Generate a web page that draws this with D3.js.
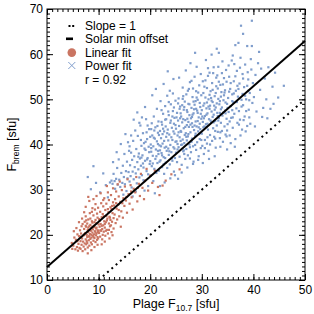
<!DOCTYPE html>
<html>
<head>
<meta charset="utf-8">
<script src="https://cdn.jsdelivr.net/npm/d3@7"></script>
<style>
  body { margin: 0; background: #fff; }
  svg { display: block; font-family: "Liberation Sans", Arial, sans-serif; }
</style>
</head>
<body>
<svg id="chart" width="314" height="314"></svg>
<script>
// power-fit sample (blue), [plage F10.7, Fbrem]
var bluePts = [
[7.9,32.8],[8.5,30.1],[9.5,31.5],[10.3,29.4],[10.9,33.6],[11.4,31.0],[11.8,28.3],[9.0,35.2],
[12.2,31.6],[12.5,32.0],[12.7,31.3],[12.9,33.5],[13.1,31.9],[13.2,30.2],[13.4,32.4],[13.6,34.8],[13.7,31.1],[13.9,36.7],[14.0,32.2],[14.2,30.6],[14.3,40.1],[14.4,33.7],[14.6,31.5],[14.7,35.3],[14.9,32.8],[15.0,37.9],[15.1,31.2],[15.3,34.1],[15.4,29.7],[15.5,36.2],[15.6,32.5],[15.7,40.5],[15.8,33.9],[15.9,38.6],[12.8,36.1],[13.5,38.3],[14.8,28.9],[15.2,42.3],
[16.0,31.8],[16.1,35.4],[16.2,33.0],[16.3,38.2],[16.4,30.5],[16.5,36.6],[16.6,34.0],[16.7,40.8],[16.8,32.3],[16.9,37.4],[17.0,35.0],[17.1,43.1],[17.2,33.6],[17.3,39.0],[17.4,31.4],[17.5,36.1],[17.6,41.9],[17.7,34.5],[17.8,38.0],[17.9,32.7],[18.0,36.9],[18.1,44.2],[18.2,35.3],[18.3,39.7],[18.4,33.2],[18.5,37.6],[18.6,42.5],[18.7,34.9],[18.8,40.3],[18.9,31.9],[19.0,36.4],[19.1,38.8],[19.2,45.6],[19.3,34.1],[19.4,41.2],[19.5,37.0],[19.6,33.4],[19.7,39.5],[19.8,43.4],[19.9,35.7],[16.3,42.0],[16.8,45.5],[17.5,47.1],[18.4,46.0],[19.0,48.3],[17.2,29.6],[18.9,29.8],[19.6,30.8],[16.6,28.5],[17.9,44.8],[18.7,32.1],[19.3,42.7],[16.0,39.6],[17.7,37.3],[18.2,41.0],
[20.0,36.3],[20.1,40.0],[20.1,33.1],[20.2,38.4],[20.3,44.7],[20.3,35.2],[20.4,42.0],[20.5,37.5],[20.6,31.9],[20.6,39.6],[20.7,46.2],[20.8,34.6],[20.9,41.3],[21.0,36.8],[21.0,43.8],[21.1,38.9],[21.2,33.7],[21.3,40.7],[21.3,47.9],[21.4,35.9],[21.5,42.6],[21.6,37.9],[21.6,45.1],[21.7,34.2],[21.8,39.8],[21.9,43.0],[22.0,36.5],[22.0,49.6],[22.1,41.4],[22.2,38.1],[22.3,35.0],[22.3,44.4],[22.4,40.2],[22.5,46.8],[22.6,37.2],[22.7,42.9],[22.7,33.5],[22.8,39.3],[22.9,48.5],[23.0,36.0],[23.0,44.0],[23.1,41.7],[23.2,38.6],[23.3,50.8],[23.3,34.8],[23.4,43.3],[23.5,40.9],[23.6,37.7],[23.6,46.5],[23.7,42.2],[23.8,35.6],[23.9,39.9],[24.0,45.3],[24.0,48.9],[24.1,38.3],[24.2,43.7],[24.3,36.4],[24.3,41.0],[24.4,47.4],[24.5,39.4],[24.6,44.6],[24.6,34.0],[24.7,42.4],[24.8,37.0],[24.9,49.7],[24.9,40.6],[20.4,50.9],[21.1,52.3],[22.6,53.4],[23.8,51.9],[24.5,54.5],[21.9,30.8],[22.8,31.6],[23.9,32.5],[24.8,33.2],[20.9,29.2],[23.4,56.2],[24.2,36.9],[21.5,38.6],[22.4,42.3],[23.1,45.6],[20.7,41.5],[24.7,45.9],[22.2,47.6],[21.8,36.2],[23.5,39.1],[20.2,43.4],[24.4,51.3],[22.9,37.0],[21.4,44.1],
[25.0,38.2],[25.0,43.5],[25.1,40.7],[25.2,47.0],[25.2,36.1],[25.3,42.0],[25.4,45.3],[25.5,39.4],[25.5,50.2],[25.6,44.1],[25.7,37.3],[25.7,41.6],[25.8,48.4],[25.9,43.0],[26.0,39.9],[26.0,46.2],[26.1,35.5],[26.2,44.9],[26.3,41.1],[26.3,52.6],[26.4,38.5],[26.5,47.7],[26.5,43.6],[26.6,40.3],[26.7,49.5],[26.8,45.4],[26.8,36.8],[26.9,42.5],[27.0,51.1],[27.0,39.0],[27.1,44.3],[27.2,47.2],[27.3,41.8],[27.3,37.6],[27.4,49.0],[27.5,43.9],[27.6,46.5],[27.6,40.0],[27.7,53.8],[27.8,42.7],[27.9,38.3],[27.9,45.8],[28.0,48.1],[28.1,41.3],[28.1,44.7],[28.2,50.5],[28.3,39.6],[28.4,46.9],[28.4,36.2],[28.5,43.2],[28.6,55.0],[28.6,48.8],[28.7,41.9],[28.8,45.1],[28.9,38.8],[28.9,51.8],[29.0,44.0],[29.1,47.5],[29.1,40.5],[29.2,49.9],[29.3,42.9],[29.4,37.4],[29.4,46.0],[29.5,53.1],[29.6,44.6],[29.6,41.2],[29.7,48.3],[29.8,39.2],[29.9,45.7],[29.9,50.9],[28.7,60.3],[26.9,56.4],[27.8,58.0],[29.0,57.2],[25.6,54.8],[26.1,33.8],[27.2,34.9],[28.3,35.7],[29.3,36.6],[25.4,32.4],[26.4,50.7],[27.5,52.3],[28.0,54.1],[29.8,55.6],[25.9,46.9],[26.7,42.1],[27.4,45.0],[28.2,43.9],[29.5,42.3],[25.3,40.1],[26.2,48.7],[27.1,40.9],[28.5,47.8],[29.2,45.2],[28.8,49.6],[27.7,39.4],[26.6,37.9],[25.8,45.8],[29.7,43.4],[28.1,46.1],
[30.0,42.4],[30.0,47.6],[30.1,39.7],[30.2,45.0],[30.3,51.4],[30.3,43.8],[30.4,37.9],[30.5,49.1],[30.6,46.3],[30.6,41.0],[30.7,54.2],[30.8,44.5],[30.9,48.0],[31.0,40.2],[31.0,52.5],[31.1,46.9],[31.2,43.3],[31.3,50.0],[31.3,38.6],[31.4,45.6],[31.5,55.9],[31.6,48.6],[31.6,42.1],[31.7,51.8],[31.8,44.9],[31.9,47.3],[32.0,40.8],[32.0,53.6],[32.1,49.4],[32.2,43.6],[32.3,46.6],[32.3,57.1],[32.4,41.7],[32.5,50.7],[32.6,45.2],[32.7,48.2],[32.7,39.3],[32.8,52.9],[32.9,44.2],[33.0,47.0],[33.0,55.3],[33.1,42.8],[33.2,50.1],[33.3,60.3],[33.3,45.9],[33.4,48.9],[33.5,41.4],[33.6,53.2],[33.7,44.8],[33.7,47.8],[33.8,51.6],[33.9,43.0],[34.0,58.4],[34.0,46.4],[34.1,40.6],[34.2,49.8],[34.3,54.7],[34.4,44.0],[34.5,47.5],[34.5,52.0],[34.6,42.2],[34.7,56.5],[34.8,45.7],[34.9,49.0],[34.9,38.9],[30.8,58.7],[31.9,59.9],[32.9,61.2],[30.2,35.9],[31.4,36.8],[32.5,37.4],[33.6,39.5],[34.8,41.8],[31.2,56.9],[33.9,55.8],[30.5,52.8],[31.8,50.3],[32.1,46.1],[33.2,45.3],[34.3,50.9],[30.9,43.9],[32.6,43.0],[33.5,49.6],[34.6,46.9],[31.5,47.9],[30.4,45.8],[32.8,54.8],[34.1,53.3],[33.1,52.4],[31.1,41.6],
[35.0,44.5],[35.1,50.3],[35.2,47.2],[35.3,55.0],[35.4,42.0],[35.5,52.3],[35.6,48.5],[35.7,45.9],[35.8,58.6],[35.9,51.1],[36.0,43.7],[36.1,49.4],[36.2,54.0],[36.3,46.8],[36.5,62.0],[36.5,41.2],[36.6,51.9],[36.7,48.0],[36.8,56.3],[36.9,44.8],[37.0,50.6],[37.1,62.5],[37.2,47.4],[37.3,53.5],[37.4,45.5],[37.5,59.2],[37.6,66.3],[37.7,49.9],[37.8,43.3],[37.9,55.6],[38.0,64.5],[38.0,48.7],[38.2,52.7],[38.3,46.2],[38.4,57.7],[38.6,50.0],[38.8,61.8],[38.8,44.1],[39.0,54.4],[39.1,47.7],[39.3,51.4],[39.5,58.9],[39.7,61.8],[39.7,67.4],[39.8,49.2],[35.6,40.3],[36.4,39.5],[37.5,42.0],[38.5,42.9],[39.4,44.6],[35.2,57.5],[36.0,59.7],[38.9,56.0],[39.9,53.6],[36.9,53.0],[37.9,51.2],[35.9,47.6],[38.1,45.4],[39.2,46.0],[36.3,57.8],
[40.1,50.5],[40.4,55.4],[40.6,47.3],[40.9,58.0],[41.1,60.5],[41.3,52.1],[41.7,46.1],[41.9,48.1],[42.2,54.6],[42.5,50.0],[42.9,57.1],[43.3,47.9],[43.7,52.8],[44.2,55.9],[44.8,50.4],[45.9,53.0],[40.3,44.0],[41.5,56.8],[42.7,45.8],[43.9,49.0],
[18.3,37.1],[18.6,35.8],[19.1,40.6],[19.4,36.7],[19.8,38.3],[20.2,39.2],[20.5,35.8],[20.8,43.1],[21.2,37.4],[21.5,40.1],[21.7,42.1],[21.9,38.7],[20.0,41.7],[19.5,44.2],[18.9,39.1],
[22.1,39.6],[22.3,37.6],[22.5,43.5],[22.7,40.8],[22.9,45.5],[23.1,39.5],[23.3,42.5],[23.5,47.3],[23.7,38.5],[23.9,44.8],[24.1,41.6],[24.3,46.2],[24.5,42.9],[24.7,39.1],[24.9,44.3],[25.1,46.0],[25.3,38.9],[25.5,42.7],[25.7,47.9],[25.9,40.8],[22.2,45.0],[23.6,49.4],[24.6,48.2],[25.4,49.1],[22.6,35.6],
[26.0,42.8],[26.2,40.0],[26.4,45.6],[26.6,48.3],[26.8,43.9],[27.0,41.7],[27.2,45.7],[27.4,42.3],[27.6,48.9],[27.8,44.4],[28.0,40.6],[28.2,46.6],[28.4,49.5],[28.6,44.2],[28.8,42.4],[29.0,50.4],[29.2,47.0],[29.4,43.8],[29.6,49.2],[29.8,46.8],[26.3,50.1],[27.3,51.9],[28.3,52.4],[29.3,51.5],[26.5,38.7],[27.7,36.9],[28.7,39.9],[29.9,41.0],[27.1,47.6],[28.9,47.9],
[30.1,46.2],[30.3,48.6],[30.5,44.0],[30.7,50.4],[30.9,46.6],[31.1,44.6],[31.3,48.4],[31.5,51.0],[31.7,45.3],[31.9,49.7],[32.1,52.1],[32.3,44.9],[32.5,47.7],[32.7,51.4],[32.9,49.1],[33.1,46.3],[33.3,53.9],[33.5,47.0],[33.7,50.6],[33.9,48.2],[30.2,54.0],[31.2,55.2],[32.2,55.8],[33.2,57.2],[30.6,39.2],[31.6,40.0],[32.6,41.3],[33.6,42.7],[31.0,49.3],[32.4,48.6],
[34.2,47.1],[34.4,51.5],[34.6,49.3],[34.8,53.9],[35.0,48.1],[35.3,51.7],[35.6,53.6],[35.9,49.6],[36.2,51.3],[36.5,55.1],[36.8,49.4],[37.1,52.3],[37.4,57.0],[37.7,48.4],[38.0,54.6],[38.4,50.8],[38.8,53.0],[39.2,49.8],[39.6,56.6],[36.0,46.0],[37.2,44.4],[38.6,47.4],[35.4,45.1],[34.9,43.1],[39.0,51.9]
];

// linear-fit sample (red)
var redPts = [
[4.8,18.2],[5.1,17.6],[5.3,19.4],[5.5,16.8],[5.6,18.9],[5.8,17.3],[5.9,20.1],[6.0,16.5],[6.1,18.0],[6.2,19.7],[6.3,17.1],[6.4,21.0],[6.5,18.6],[6.5,16.9],[6.6,20.3],[6.7,17.8],[6.8,19.2],[6.9,22.4],[6.9,16.4],[7.0,18.5],[5.2,20.8],[4.9,16.9],[6.2,22.8],[5.7,21.5],[6.8,23.6],
[7.1,17.4],[7.1,19.9],[7.2,21.3],[7.3,18.1],[7.3,22.9],[7.4,16.8],[7.4,20.4],[7.5,19.0],[7.5,24.1],[7.6,17.9],[7.6,21.8],[7.7,20.0],[7.7,18.6],[7.8,22.5],[7.8,19.5],[7.9,17.2],[7.9,21.1],[8.0,20.6],[8.0,23.4],[8.1,18.8],[8.1,19.7],[8.2,21.9],[8.2,17.6],[8.3,20.2],[8.3,24.8],[8.4,19.1],[8.4,22.2],[8.5,18.3],[8.5,20.9],[8.6,21.5],[8.6,19.4],[8.7,23.0],[8.7,17.9],[8.8,20.5],[8.8,22.7],[8.9,19.8],[8.9,21.2],[9.0,18.7],[9.0,24.3],[9.1,20.1],[9.1,22.0],[9.2,19.3],[9.2,21.7],[9.3,25.6],[9.3,20.8],[9.4,18.4],[9.4,23.3],[9.5,21.4],[9.5,19.9],[9.6,22.6],[9.6,20.3],[9.7,24.7],[9.7,18.9],[9.8,21.0],[9.8,23.8],[9.9,20.6],[9.9,19.2],[10.0,22.3],[7.5,26.2],[8.2,27.5],[8.8,25.9],[9.4,26.8],[7.9,15.9],[8.6,16.6],[9.2,17.3],[9.8,17.8],[8.0,28.4],[7.2,25.0],[9.0,27.9],[9.6,28.6],
[10.1,20.4],[10.1,23.5],[10.2,21.8],[10.3,19.6],[10.3,25.1],[10.4,22.4],[10.5,20.9],[10.5,27.0],[10.6,23.9],[10.7,21.3],[10.7,19.0],[10.8,24.6],[10.9,22.1],[10.9,26.3],[11.0,20.7],[11.1,23.0],[11.1,28.1],[11.2,21.6],[11.3,25.5],[11.3,19.8],[11.4,22.8],[11.5,24.2],[11.5,26.9],[11.6,21.1],[11.7,23.6],[11.8,29.4],[11.8,20.3],[11.9,25.0],[12.0,22.5],[12.0,27.7],[12.1,24.0],[12.2,21.9],[12.3,26.1],[12.3,23.3],[12.4,28.8],[12.5,20.6],[12.5,25.7],[12.6,22.9],[12.7,24.8],[12.8,27.2],[12.8,30.3],[12.9,23.7],[13.0,26.5],[10.6,17.9],[11.2,18.5],[12.1,19.2],[12.7,19.9],[10.4,29.2],[11.6,30.8],[12.9,21.4],
[13.1,24.5],[13.2,27.9],[13.3,22.6],[13.4,29.6],[13.5,25.8],[13.6,23.4],[13.7,31.2],[13.8,26.7],[13.9,28.5],[14.0,24.1],[14.1,31.8],[14.2,27.3],[14.4,25.2],[14.5,29.9],[14.7,23.8],[14.8,28.1],[15.0,26.4],[15.1,30.7],[15.3,27.6],[15.5,24.9],[15.6,32.3],[15.8,29.0],[16.0,26.9],[16.2,31.0],[16.4,28.3],[16.6,25.6],[16.8,30.2],[14.3,21.8],
[17.1,29.4],[17.3,32.8],[17.5,27.4],[17.8,31.3],[18.0,28.6],[18.2,33.5],[18.5,30.4],[18.8,27.9],[19.0,32.0],[19.3,34.6],[19.6,29.8],[20.0,33.1],[20.4,31.5],[20.9,34.2],[21.5,30.6],
[22.4,30.9],[23.0,32.0],[24.1,33.4],[25.7,34.5],[21.8,28.8],
[7.2,20.1],[7.5,22.0],[7.8,18.2],[8.0,21.6],[8.2,19.6],[8.4,23.6],[8.6,20.0],[8.8,21.8],[9.0,19.5],[9.2,22.8],[9.4,20.5],[9.6,21.6],[9.8,19.5],[10.0,20.9],[10.2,23.1],[10.4,21.0],[10.6,22.0],[10.8,20.0],[11.0,24.1],[11.2,22.4],[11.4,20.9],[11.6,23.2],[11.8,25.7],[12.0,21.1],[12.2,23.8],[12.4,22.1],[12.6,26.4],[7.6,23.2],[8.7,25.1],[9.9,26.0],[10.9,27.7],[6.4,19.6],[6.7,21.9],[5.9,18.6],[13.4,27.0],[14.6,27.0],[13.9,25.5],[15.4,28.4],[16.3,29.6],[17.6,30.4]
];

var slopeOne = [10, 50];        // y = x
var solarMinOffset = 12.9;      // y = x + offset
var xTicks = [0, 10, 20, 30, 40, 50];
var yTicks = [10, 20, 30, 40, 50, 60, 70];
var legendLabels = ["Slope = 1", "Solar min offset", "Linear fit", "Power fit", "r = 0.92"];

var blueCol = "#7f9dcc", redCol = "#ca7562";

var svg = d3.select("#chart");
var x = d3.scaleLinear().domain([0, 50]).range([47, 305]);
var y = d3.scaleLinear().domain([10, 70]).range([280, 9]);

var minorX = d3.range(0, 51, 1), minorY = d3.range(10, 71, 1);

// ticks, pointing inward on all four sides
function ax(gen, tx, ty) {
  var g = svg.append("g").attr("transform", "translate(" + tx + "," + ty + ")").call(gen);
  g.select(".domain").remove();
  g.selectAll("line").attr("stroke", "#000");
  return g;
}
ax(d3.axisBottom(x).tickValues(minorX).tickSize(-3).tickFormat(""), 0, 280);
ax(d3.axisTop(x).tickValues(minorX).tickSize(-3).tickFormat(""), 0, 9);
ax(d3.axisLeft(y).tickValues(minorY).tickSize(-3).tickFormat(""), 47, 0);
ax(d3.axisRight(y).tickValues(minorY).tickSize(-3).tickFormat(""), 305, 0);
ax(d3.axisTop(x).tickValues(xTicks).tickSize(-6).tickFormat(""), 0, 9);
ax(d3.axisRight(y).tickValues(yTicks).tickSize(-6).tickFormat(""), 305, 0);
var gx = ax(d3.axisBottom(x).tickValues(xTicks).tickSize(-6).tickPadding(5), 0, 280);
var gy = ax(d3.axisLeft(y).tickValues(yTicks).tickSize(-6).tickPadding(4), 47, 0);
[gx, gy].forEach(function (g) {
  g.selectAll("text").attr("fill", "#000").style("font-size", "12px")
    .style("font-family", "Liberation Sans, Arial, sans-serif");
});

// points
svg.append("g").selectAll("rect").data(bluePts).enter().append("rect")
  .attr("x", function (d) { return x(d[0]) - 1.1; })
  .attr("y", function (d) { return y(d[1]) - 1.1; })
  .attr("width", 2.2).attr("height", 2.2)
  .attr("fill", blueCol);
svg.append("g").selectAll("rect").data(redPts).enter().append("rect")
  .attr("x", function (d) { return x(d[0]) - 1.1; })
  .attr("y", function (d) { return y(d[1]) - 1.1; })
  .attr("width", 2.2).attr("height", 2.2)
  .attr("fill", redCol);

// reference lines
svg.append("line")
  .attr("x1", x(slopeOne[0])).attr("y1", y(slopeOne[0]))
  .attr("x2", x(slopeOne[1])).attr("y2", y(slopeOne[1]))
  .attr("stroke", "#000").attr("stroke-width", 2).attr("stroke-dasharray", "2,3.7");
svg.append("line")
  .attr("x1", x(0)).attr("y1", y(solarMinOffset))
  .attr("x2", x(50)).attr("y2", y(50 + solarMinOffset))
  .attr("stroke", "#000").attr("stroke-width", 2);

// frame
svg.append("rect").attr("x", 47).attr("y", 9).attr("width", 258).attr("height", 271)
  .attr("fill", "none").attr("stroke", "#000").attr("stroke-width", 1);

// legend
var lg = svg.append("g");
legendLabels.forEach(function (t, i) {
  lg.append("text").attr("x", 85).attr("y", 30 + i * 13.4)
    .style("font-size", "12px").text(t);
});
lg.append("rect").attr("x", 68.5).attr("y", 25).attr("width", 2).attr("height", 2).attr("fill", "#000");
lg.append("rect").attr("x", 72.2).attr("y", 25).attr("width", 2).attr("height", 2).attr("fill", "#000");
lg.append("rect").attr("x", 66).attr("y", 37.5).attr("width", 7).attr("height", 2.6).attr("fill", "#000");
lg.append("circle").attr("cx", 71.8).attr("cy", 52.6).attr("r", 4.3).attr("fill", redCol);
lg.append("path").attr("d", "M68.3,62 L75.3,69 M75.3,62 L68.3,69")
  .attr("stroke", blueCol).attr("stroke-width", 1).attr("fill", "none");

// axis titles
var xt = svg.append("text").attr("x", 176).attr("y", 307.5).attr("text-anchor", "middle")
  .style("font-size", "12.5px");
xt.append("tspan").text("Plage F");
xt.append("tspan").attr("dy", 3).style("font-size", "8.5px").text("10.7");
xt.append("tspan").attr("dy", -3).text(" [sfu]");

var yt = svg.append("text").attr("transform", "translate(16,144.5) rotate(-90)")
  .attr("text-anchor", "middle").style("font-size", "12.5px");
yt.append("tspan").text("F");
yt.append("tspan").attr("dy", 3).style("font-size", "8.5px").text("brem");
yt.append("tspan").attr("dy", -3).text(" [sfu]");
</script>
</body>
</html>
